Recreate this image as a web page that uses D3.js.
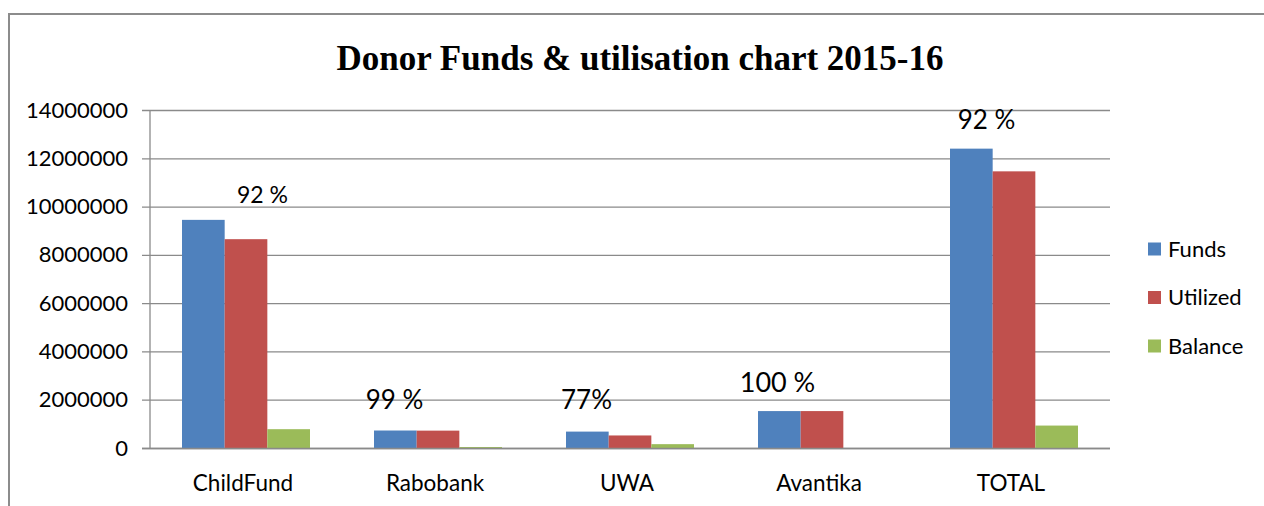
<!DOCTYPE html>
<html>
<head>
<meta charset="utf-8">
<script src="https://cdn.jsdelivr.net/npm/d3@7"></script>
<style>
  body { margin: 0; background: #fff; }
  svg text { font-family: Lato, "Open Sans", sans-serif; fill: #000; }
</style>
</head>
<body>
<div id="svg-container"></div>
<script>
// data
const categories = ["ChildFund", "Rabobank", "UWA", "Avantika", "TOTAL"];
const seriesNames = ["Funds", "Utilized", "Balance"];
const funds = [9470000, 745000, 700000, 1550000, 12420000];
const utilized = [8670000, 740000, 540000, 1550000, 11480000];
const balance = [800000, 60000, 180000, 0, 950000];
const pctLabels = ["92 %", "99 %", "77%", "100 %", "92 %"];
const yTicks = [0, 2000000, 4000000, 6000000, 8000000, 10000000, 12000000, 14000000];

const colors = { Funds: "#4F81BD", Utilized: "#C0504D", Balance: "#9BBB59" };

const width = 1264, height = 506;
const margin = { top: 110.5, right: 154, bottom: 57.5, left: 150 };

const svg = d3.select("#svg-container").append("svg")
  .attr("width", width).attr("height", height);

// outer frame
svg.append("rect")
  .attr("x", 9).attr("y", 14).attr("width", 1400).attr("height", 700)
  .attr("fill", "none").attr("stroke", "#8c8c8c").attr("stroke-width", 2);

// title
svg.append("text")
  .attr("x", 640).attr("y", 70)
  .attr("text-anchor", "middle")
  .style("font-family", "'Liberation Serif', 'Times New Roman', serif")
  .style("font-weight", "bold")
  .style("font-size", "35px")
  .text("Donor Funds & utilisation chart 2015-16");

// scales
const x0 = d3.scaleBand().domain(categories)
  .range([margin.left, width - margin.right]).padding(0);
const x1 = d3.scaleBand().domain(seriesNames)
  .range([0, x0.bandwidth()]).paddingInner(0).paddingOuter(0.75);
const y = d3.scaleLinear().domain([0, 14000000])
  .range([height - margin.bottom, margin.top]);

// gridlines
svg.append("g")
  .selectAll("line")
  .data(yTicks)
  .join("line")
  .attr("x1", margin.left - 8).attr("x2", width - margin.right)
  .attr("y1", (d) => y(d)).attr("y2", (d) => y(d))
  .attr("stroke", "#8a8a8a").attr("stroke-width", 1.3);

// y axis line
svg.append("line")
  .attr("x1", margin.left).attr("x2", margin.left)
  .attr("y1", y(14000000)).attr("y2", y(0))
  .attr("stroke", "#8a8a8a").attr("stroke-width", 1.3);

// y labels
svg.append("g")
  .selectAll("text")
  .data(yTicks)
  .join("text")
  .attr("x", margin.left - 22)
  .attr("y", (d) => y(d) + 7)
  .attr("text-anchor", "end")
  .style("font-size", "22px")
  .text((d) => d3.format("d")(d));

// bars
const rows = categories.map((c, i) => ({
  cat: c,
  values: [
    { key: "Funds", value: funds[i] },
    { key: "Utilized", value: utilized[i] },
    { key: "Balance", value: balance[i] },
  ],
}));

const groups = svg.append("g")
  .selectAll("g")
  .data(rows)
  .join("g")
  .attr("transform", (d) => `translate(${x0(d.cat)},0)`);

groups.selectAll("rect")
  .data((d) => d.values)
  .join("rect")
  .attr("x", (d) => x1(d.key))
  .attr("y", (d) => y(d.value))
  .attr("width", x1.bandwidth())
  .attr("height", (d) => y(0) - y(d.value))
  .attr("fill", (d) => colors[d.key]);

// baseline over bars
svg.append("line")
  .attr("x1", margin.left - 8).attr("x2", width - margin.right)
  .attr("y1", y(0)).attr("y2", y(0))
  .attr("stroke", "#8a8a8a").attr("stroke-width", 1.3);

// category labels
svg.append("g")
  .selectAll("text")
  .data(categories)
  .join("text")
  .attr("x", (d) => x0(d) + x0.bandwidth() / 2 - 3)
  .attr("y", y(0) + 42)
  .attr("text-anchor", "middle")
  .style("font-size", "22.5px")
  .text((d) => d);

// percentage annotations (placed text boxes, baseline given as value)
const pctPlace = [
  { dx: 16.5, v: 10170000, size: 23 },
  { dx: -43.5, v: 1640000, size: 26 },
  { dx: -43.5, v: 1640000, size: 26 },
  { dx: -44.5, v: 2340000, size: 27 },
  { dx: -27.5, v: 13240000, size: 26 },
];
svg.append("g")
  .selectAll("text")
  .data(pctLabels)
  .join("text")
  .attr("x", (d, i) => x0(categories[i]) + x0.bandwidth() / 2 + pctPlace[i].dx)
  .attr("y", (d, i) => y(pctPlace[i].v))
  .attr("text-anchor", "middle")
  .style("font-size", (d, i) => pctPlace[i].size + "px")
  .text((d) => d);

// legend
const legend = svg.append("g")
  .selectAll("g")
  .data(seriesNames)
  .join("g")
  .attr("transform", (d, i) => `translate(1148, ${249 + i * 48.5})`);

legend.append("rect")
  .attr("x", 0).attr("y", -6.5)
  .attr("width", 13).attr("height", 13)
  .attr("fill", (d) => colors[d]);

legend.append("text")
  .attr("x", 20).attr("y", 7.5)
  .style("font-size", "22px")
  .text((d) => d);
</script>
</body>
</html>
